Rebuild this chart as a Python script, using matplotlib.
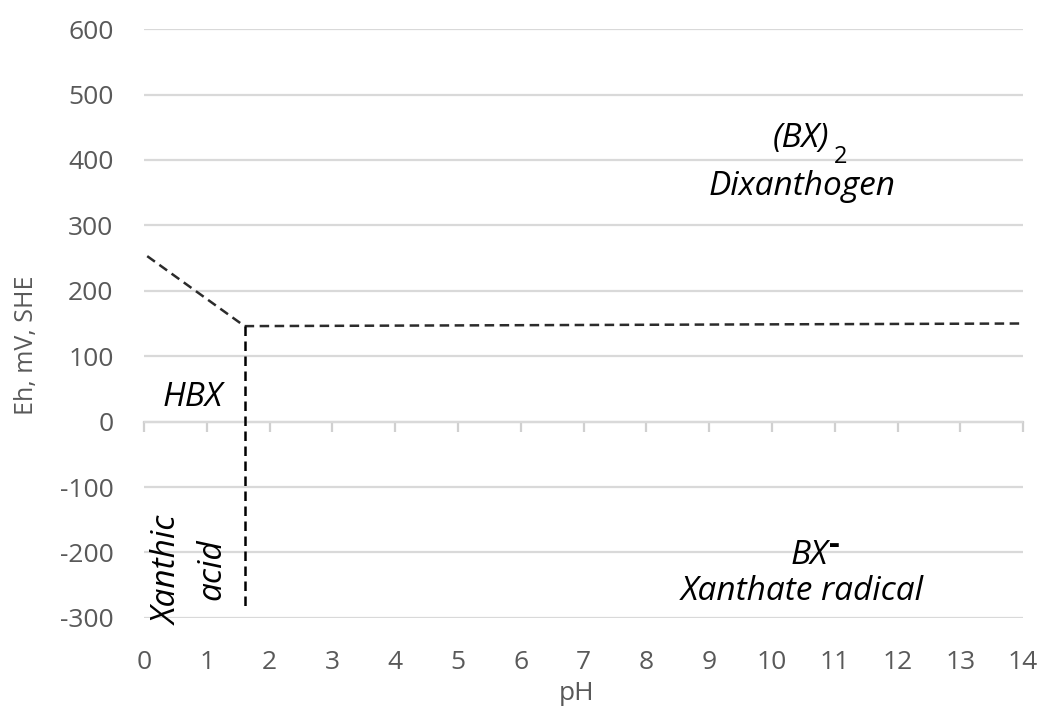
import numpy as np
import matplotlib
matplotlib.use('Agg')
import matplotlib.pyplot as plt

plt.rcParams['font.family'] = ['Open Sans', 'DejaVu Sans']
plt.rcParams['axes.unicode_minus'] = False

# Eh-pH boundaries for the xanthate system
ph_upper = [0.05, 1.6, 14.0]
eh_upper = [253, 146, 150]
ph_acid = [1.6, 1.6]
eh_acid = [146, -290]

xticks = list(range(0, 15))
yticks = list(range(-300, 601, 100))

grey = '#595959'
grid = '#d9d9d9'

fig = plt.figure(figsize=(10.44, 7.11), dpi=100)
ax = fig.add_axes([0.138, 0.131, 0.842, 0.828])

ax.plot(ph_upper, eh_upper, color='#2b2b2b', lw=1.8, ls=(0, (3.8, 2.2)))
ax.plot(ph_acid, eh_acid, color='black', lw=1.8, ls=(0, (3.8, 2.2)))

ax.set_xlim(0, 14)
ax.set_ylim(-300, 600)
ax.set_yticks(yticks)
ax.set_xticks(xticks)
ax.yaxis.grid(True, color=grid, lw=1.6)
ax.set_axisbelow(True)
for s in ax.spines.values():
    s.set_visible(False)
ax.tick_params(axis='both', length=0, labelsize=19, labelcolor=grey)
ax.tick_params(axis='x', pad=23)
ax.tick_params(axis='y', pad=22)

# x axis line crossing at Eh = 0
zero = ax.secondary_xaxis(300 / 900)
zero.set_xticks(xticks)
zero.tick_params(direction='out', length=7.5, width=1.6, color='#d0d0d0',
                 labelbottom=False, labeltop=False)
zero.spines['bottom'].set_color('#d0d0d0')
zero.spines['bottom'].set_linewidth(1.6)

fig.text(577 / 1044, 1 - 693 / 711, 'pH', fontsize=19, color=grey,
         ha='center', va='center')
fig.text(26 / 1044, 1 - 345 / 711, 'Eh, mV, SHE', fontsize=18, color=grey,
         rotation=90, ha='center', va='center')

tk = dict(fontsize=24, style='italic', color='black', ha='center', va='center')
ax.text(10.46, 433, '(BX)', **tk)
ax.text(11.1, 405, '2', fontsize=17, color='black', ha='center', va='center')
ax.text(10.48, 359, 'Dixanthogen', **tk)
ax.text(0.78, 37, 'HBX', **tk)
ax.text(0.38, -228, 'Xanthic', rotation=90, **tk)
ax.text(1.08, -225, 'acid', rotation=90, **tk)
ax.text(10.59, -205, 'BX', **tk)
ax.text(11.0, -190, '-', fontsize=24, fontweight='bold', color='black',
        ha='center', va='center')
ax.text(10.48, -260, 'Xanthate radical', **tk)

fig.savefig('out.png', dpi=100)
